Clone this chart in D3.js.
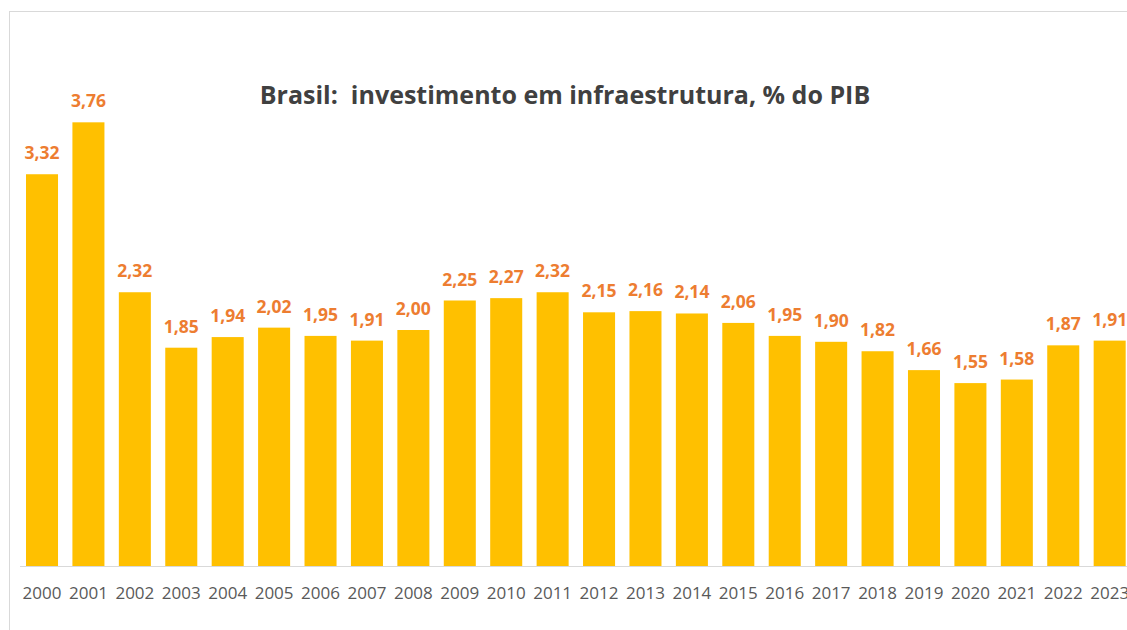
<!DOCTYPE html>
<html>
<head>
<meta charset="utf-8">
<script src="https://cdn.jsdelivr.net/npm/d3@7"></script>
<style>
  body { margin: 0; background: #fff; }
  svg { display: block; font-family: "Open Sans", sans-serif; }
</style>
</head>
<body>
<div class="chart"></div>
<script>
const years = ['2000','2001','2002','2003','2004','2005','2006','2007','2008','2009','2010','2011',
               '2012','2013','2014','2015','2016','2017','2018','2019','2020','2021','2022','2023'];
const values = [3.32,3.76,2.32,1.85,1.94,2.02,1.95,1.91,2.00,2.25,2.27,2.32,
                2.15,2.16,2.14,2.06,1.95,1.90,1.82,1.66,1.55,1.58,1.87,1.91];
const title = 'Brasil:  investimento em infraestrutura, % do PIB';

const width = 1127, height = 630;
const baseY = 566;

const svg = d3.select('.chart').append('svg')
    .attr('width', width).attr('height', height);

// chart area border (runs off the right edge like the screenshot)
svg.append('rect')
    .attr('x', 9.5).attr('y', 11.5)
    .attr('width', 1140).attr('height', 640)
    .attr('fill', 'none').attr('stroke', '#d9d9d9');

const x = d3.scaleBand()
    .domain(years)
    .range([18.8, 18.8 + 46.42 * years.length])
    .paddingInner(0.31).paddingOuter(0.155);

const y = d3.scaleLinear()
    .domain([0, 4])
    .range([baseY, baseY - 4 * 118]);

const data = years.map((yr, i) => ({year: yr, value: values[i]}));

svg.selectAll('rect.bar')
    .data(data)
    .join('rect')
    .attr('class', 'bar')
    .attr('x', d => x(d.year))
    .attr('width', x.bandwidth())
    .attr('y', d => y(d.value))
    .attr('height', d => y(0) - y(d.value))
    .attr('fill', '#ffc000');

svg.selectAll('text.val')
    .data(data)
    .join('text')
    .attr('class', 'val')
    .attr('x', d => x(d.year) + x.bandwidth() / 2)
    .attr('y', d => y(d.value) - 15)
    .attr('text-anchor', 'middle')
    .attr('font-size', 17.5)
    .attr('font-weight', 'bold')
    .attr('fill', '#ed7d31')
    .text(d => d3.format('.2f')(d.value).replace('.', ','));

const axis = svg.append('g')
    .attr('transform', `translate(0,${baseY + 0.5})`)
    .call(d3.axisBottom(x).tickSize(0).tickPadding(20));
axis.select('.domain').attr('stroke', '#d9d9d9').attr('d', 'M20,0H1140');
axis.selectAll('text')
    .attr('font-size', 17)
    .attr('fill', '#595959')
    .attr('font-family', '"Open Sans", sans-serif');

svg.append('text')
    .attr('x', 565).attr('y', 104)
    .attr('text-anchor', 'middle')
    .attr('font-size', 25)
    .attr('font-weight', 'bold')
    .attr('fill', '#404040')
    .style('white-space', 'pre')
    .text(title);
</script>
</body>
</html>
